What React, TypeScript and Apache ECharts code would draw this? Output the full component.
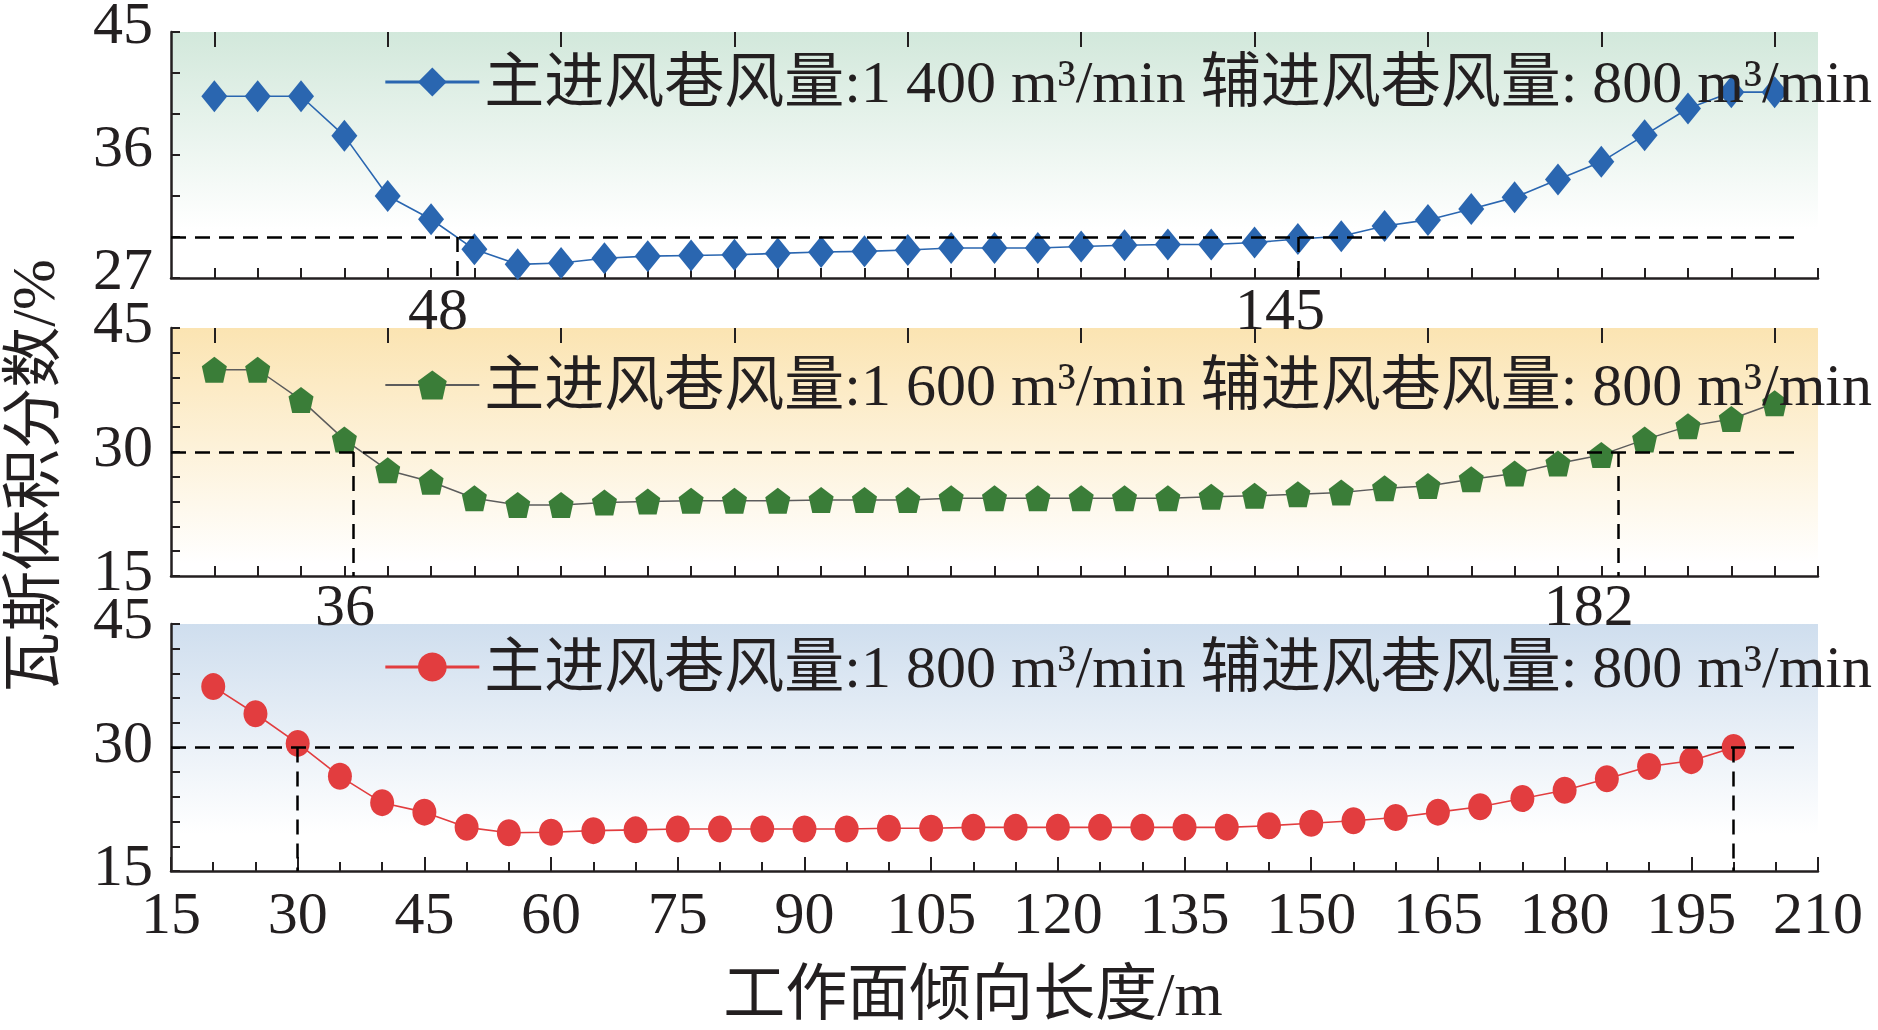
import React, { useEffect, useRef } from "react";
import * as echarts from "echarts";

// ---- data ----
const positions = [20, 25, 30, 35, 40, 45, 50, 55, 60, 65, 70, 75, 80, 85, 90, 95, 100, 105, 110, 115, 120, 125, 130, 135, 140, 145, 150, 155, 160, 165, 170, 175, 180, 185, 190, 195, 200];

const gas1400 = [40.3, 40.3, 40.3, 37.4, 33.0, 31.3, 29.1, 28.0, 28.1, 28.45, 28.6, 28.65, 28.7, 28.8, 28.9, 28.95, 29.05, 29.2, 29.2, 29.2, 29.3, 29.4, 29.45, 29.45, 29.6, 29.85, 30.05, 30.8, 31.25, 32.05, 32.9, 34.2, 35.5, 37.45, 39.4, 40.6, 40.6];
const gas1600 = [39.95, 39.95, 36.3, 31.5, 27.8, 26.4, 24.4, 23.6, 23.6, 23.9, 24.0, 24.1, 24.1, 24.1, 24.2, 24.2, 24.2, 24.4, 24.4, 24.4, 24.4, 24.4, 24.4, 24.6, 24.7, 24.9, 25.1, 25.6, 25.9, 26.7, 27.4, 28.6, 29.65, 31.5, 33.1, 34.0, 35.9];
const gas1800 = [37.4, 34.1, 30.5, 26.5, 23.3, 22.15, 20.3, 19.65, 19.7, 19.9, 20.0, 20.1, 20.1, 20.1, 20.1, 20.1, 20.2, 20.2, 20.3, 20.3, 20.3, 20.3, 20.3, 20.3, 20.3, 20.5, 20.8, 21.1, 21.5, 22.15, 22.8, 23.8, 24.8, 26.2, 27.7, 28.4, 30.0];

const seriesNames = [
  "主进风巷风量:1 400 m³/min 辅进风巷风量: 800 m³/min",
  "主进风巷风量:1 600 m³/min 辅进风巷风量: 800 m³/min",
  "主进风巷风量:1 800 m³/min 辅进风巷风量: 800 m³/min",
];

const threshold = 30;
const crossTop = [48, 145];
const crossMid = [36, 182];
const crossBot = [30, 200];
const crossTopLabels = ["48", "145"];
const crossMidLabels = ["36", "182"];

const yRanges = [
  [27, 45],
  [15, 45],
  [15, 45],
];
const yLabelStep = [9, 15, 15];
const xTopRange = [15, 205];
const xBotRange = [15, 210];
const minorTickValues = [20, 25, 30, 35, 40, 45, 50, 55, 60, 65, 70, 75, 80, 85, 90, 95, 100, 105, 110, 115, 120, 125, 130, 135, 140, 145, 150, 155, 160, 165, 170, 175, 180, 185, 190, 195, 200, 205];
const majorTickValues = [20, 40, 60, 80, 100, 120, 140, 160, 180, 200];
const hLineEnds = [203, 203, 207.6];

const FONT = '"Liberation Serif", "Times New Roman", "Noto Sans CJK SC", serif';
const INK = "#231f20";

function pairs(ys: number[]) {
  return positions.map((x, i) => [x, ys[i]]);
}

function markLines(yMin: number, cross: number[], hEnd: number, xMin: number) {
  return {
    silent: true,
    symbol: ["none", "none"],
    label: { show: false },
    lineStyle: { color: "#000", type: [15, 9], width: 2.5 },
    data: [
      [{ coord: [xMin, threshold] }, { coord: [hEnd, threshold] }],
      ...cross.map((c) => [{ coord: [c, threshold] }, { coord: [c, yMin] }]),
    ],
  };
}

function markLabels(yMin: number, cross: number[], labels: string[], offsets: number[][]) {
  return {
    silent: true,
    symbol: "circle",
    symbolSize: 1,
    itemStyle: { color: "rgba(0,0,0,0)" },
    label: { show: true, position: "inside", formatter: "{b}", fontSize: 60, lineHeight: 44, fontFamily: FONT, color: INK },
    data: cross.map((c, i) => ({ name: labels[i], coord: [c, yMin], label: { offset: offsets[i] } })),
  };
}

function grad(c: string, stop: number) {
  return {
    type: "linear",
    x: 0,
    y: 0,
    x2: 0,
    y2: 1,
    colorStops: [
      { offset: 0, color: c },
      { offset: stop, color: "#ffffff" },
      { offset: 1, color: "#ffffff" },
    ],
  };
}

const axisLineStyle = { show: true, lineStyle: { color: INK, width: 2.5 } };

function yAxisOpt(i: number) {
  const [mn, mx] = yRanges[i];
  return {
    type: "value",
    gridIndex: i,
    min: mn,
    max: mx,
    interval: 3,
    axisLine: axisLineStyle,
    axisTick: { show: true, inside: true, length: 9, lineStyle: { color: INK, width: 2 } },
    splitLine: { show: false },
    axisLabel: {
      fontSize: 60,
      fontFamily: FONT,
      color: INK,
      margin: 18,
      verticalAlign: "bottom",
      lineHeight: i === 0 ? 18 : 12,
      formatter: (v: number) => ((v - mn) % yLabelStep[i] === 0 ? String(v) : ""),
    },
  };
}

function topXAxes(gi: number) {
  return [
    {
      type: "value",
      gridIndex: gi,
      min: xTopRange[0],
      max: xTopRange[1],
      interval: 5,
      axisLine: axisLineStyle,
      axisTick: { show: true, inside: true, length: 10, customValues: minorTickValues, lineStyle: { color: INK, width: 2 } },
      axisLabel: { show: false },
      splitLine: { show: false },
    },
    {
      type: "value",
      gridIndex: gi,
      min: xTopRange[0],
      max: xTopRange[1],
      interval: 5,
      axisLine: { show: false },
      axisTick: { show: true, inside: true, length: 15, customValues: majorTickValues, lineStyle: { color: INK, width: 2 } },
      axisLabel: { show: false },
      splitLine: { show: false },
    },
  ];
}

const pentagon = "path://M12,0 L24,9.5 L20.5,26 L3.5,26 L0,9.5 Z";

export default function App() {
  const ref = useRef<HTMLDivElement>(null);
  useEffect(() => {
    if (!ref.current) return;
    const chart = echarts.init(ref.current, null, { renderer: "svg" });
    const legendBase = {
      right: 6,
      orient: "horizontal",
      itemWidth: 94,
      itemHeight: 36,
      padding: 0,
      textStyle: { fontSize: 60, fontFamily: FONT, color: INK, lineHeight: 50 },
    };
    const gridBase = { left: 171, right: 60, show: true, borderWidth: 0, containLabel: false, outerBoundsMode: "none" };
    chart.setOption({
      animation: false,
      backgroundColor: "#ffffff",
      grid: [
        { ...gridBase, top: 32, height: 246, backgroundColor: grad("#d2e8db", 0.8) },
        { ...gridBase, top: 328, height: 248, backgroundColor: grad("#fbe4b2", 0.95) },
        { ...gridBase, top: 624, height: 247, backgroundColor: grad("#cfdeee", 0.85) },
      ],
      legend: [
        { ...legendBase, top: 52, data: [seriesNames[0]], lineStyle: { width: 3 } },
        { ...legendBase, top: 355, data: [seriesNames[1]], lineStyle: { width: 2 } },
        { ...legendBase, top: 637, data: [seriesNames[2]], lineStyle: { width: 3 } },
      ],
      xAxis: [
        ...topXAxes(0),
        ...topXAxes(1),
        {
          type: "value",
          gridIndex: 2,
          min: xBotRange[0],
          max: xBotRange[1],
          interval: 15,
          axisLine: axisLineStyle,
          axisTick: { show: true, inside: true, length: 14, lineStyle: { color: INK, width: 2 } },
          minorTick: { show: true, splitNumber: 3, length: 9, lineStyle: { color: INK, width: 2 } },
          axisLabel: { fontSize: 60, fontFamily: FONT, color: INK, margin: 12 },
          splitLine: { show: false },
          minorSplitLine: { show: false },
        },
      ],
      yAxis: [yAxisOpt(0), yAxisOpt(1), yAxisOpt(2)],
      series: [
        {
          name: seriesNames[0],
          type: "line",
          xAxisIndex: 0,
          yAxisIndex: 0,
          data: pairs(gas1400),
          symbol: "diamond",
          symbolSize: [26, 32],
          itemStyle: { color: "#2a66b0" },
          lineStyle: { color: "#2a66b0", width: 1.6 },
          markLine: markLines(yRanges[0][0], crossTop, hLineEnds[0], xTopRange[0]),
          markPoint: markLabels(yRanges[0][0], crossTop, crossTopLabels, [[-19, 31], [-18, 31]]),
        },
        {
          name: seriesNames[1],
          type: "line",
          xAxisIndex: 2,
          yAxisIndex: 1,
          data: pairs(gas1600),
          symbol: pentagon,
          symbolSize: [25, 26],
          itemStyle: { color: "#3a7d38" },
          lineStyle: { color: "#5c5c5c", width: 1.5 },
          markLine: markLines(yRanges[1][0], crossMid, hLineEnds[1], xTopRange[0]),
          markPoint: markLabels(yRanges[1][0], crossMid, crossMidLabels, [[-8, 29], [-30, 29]]),
        },
        {
          name: seriesNames[2],
          type: "line",
          xAxisIndex: 4,
          yAxisIndex: 2,
          data: pairs(gas1800),
          symbol: "circle",
          symbolSize: [24, 27],
          itemStyle: { color: "#e23d3f" },
          lineStyle: { color: "#e23d3f", width: 1.6 },
          markLine: markLines(yRanges[2][0], crossBot, hLineEnds[2], xBotRange[0]),
        },
      ],
      graphic: [
        {
          type: "text",
          x: 33,
          y: 476,
          rotation: Math.PI / 2,
          style: { text: "瓦斯体积分数/%", fontSize: 61, lineHeight: 54, fontFamily: FONT, fill: INK, align: "center", verticalAlign: "middle" },
        },
        {
          type: "text",
          x: 973,
          y: 994,
          style: { text: "工作面倾向长度/m", fontSize: 62, lineHeight: 56, fontFamily: FONT, fill: INK, align: "center", verticalAlign: "middle" },
        },
      ],
    });
    return () => chart.dispose();
  }, []);
  return (
    <div
      ref={ref}
      style={{ position: "fixed", left: 0, top: 0, width: 1878, height: 1030, background: "#fff" }}
    />
  );
}
